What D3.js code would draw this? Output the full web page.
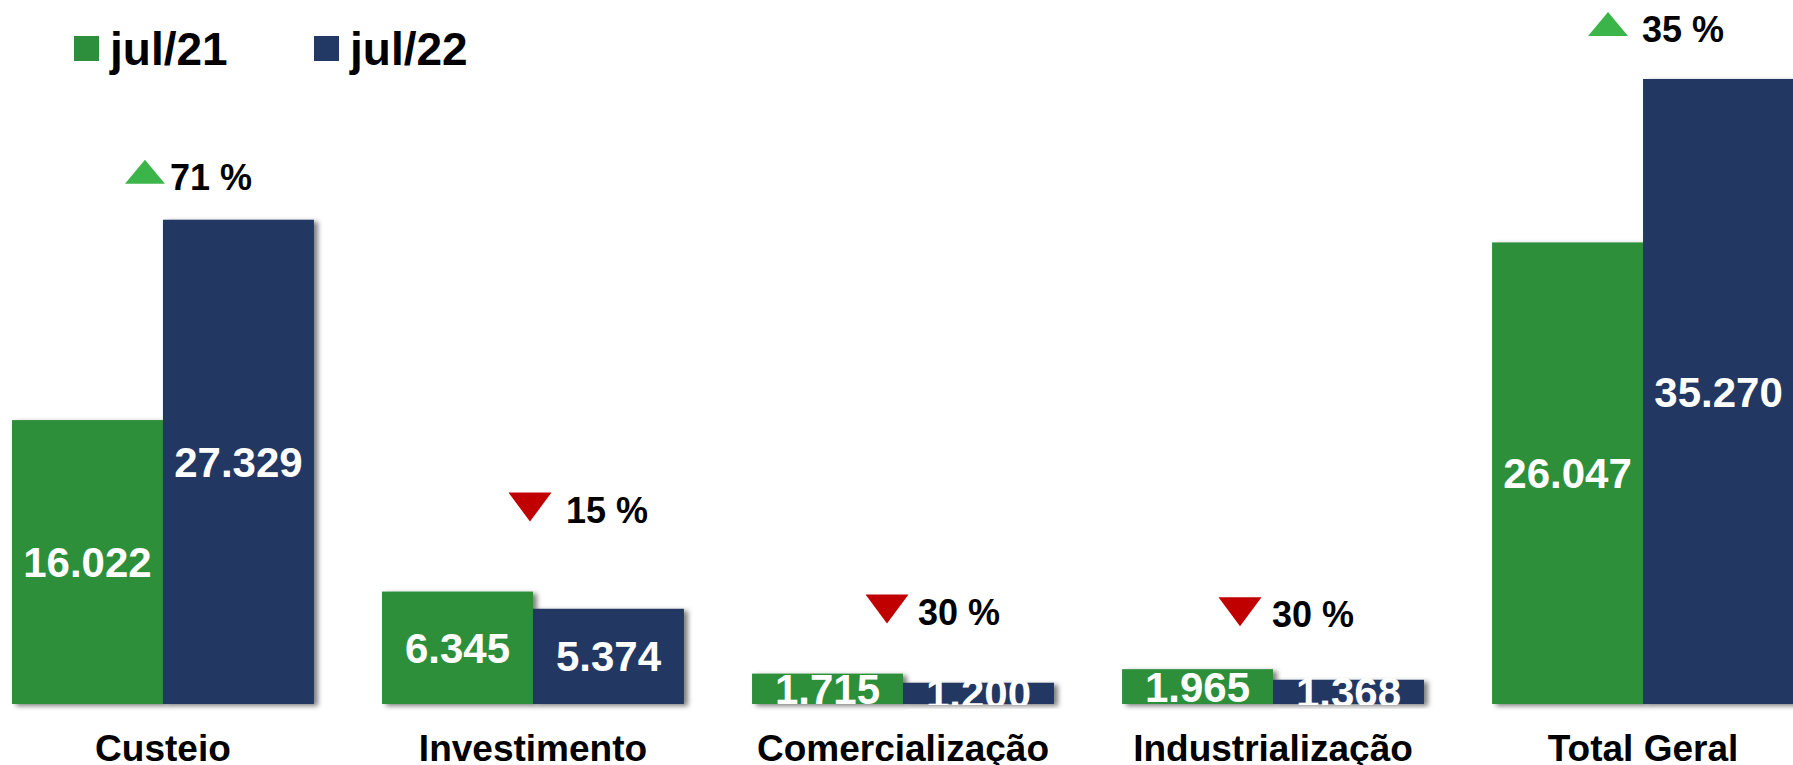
<!DOCTYPE html>
<html>
<head>
<meta charset="utf-8">
<script src="https://cdn.jsdelivr.net/npm/d3@7"></script>
<style>
	body { margin: 0; background: #fff; }
	text { font-family: "Liberation Sans", Arial, sans-serif; font-weight: bold; }
</style>
</head>
<body>
<script>

//Chart data
let categories = ["Custeio", "Investimento", "Comercialização", "Industrialização", "Total Geral"];
let seriesNames = ["jul/21", "jul/22"];
let jul21 = [16022, 6345, 1715, 1965, 26047];
let jul22 = [27329, 5374, 1200, 1368, 35270];

//Hand placement of the change labels (text shift from group centre, lift above taller bar, arrow gap)
let annoShift = [7, 33, 15, -1, -1];
let annoLift = [30, 69, 49, 42, 37];
let arrowGap = [25, 36, 31, 32, 34];

window.onload = drawChart();

function drawChart(){

	let width = 1793;
	let height = 765;

	let colors = ["#2d8f3b", "#213964"];

	let svg = d3.select("body")
		.append("svg")
		.attr("width", width)
		.attr("height", height);

	//Soft shadow on the bars
	let defs = svg.append("defs");
	defs.append("filter")
		.attr("id", "shadow")
		.attr("x", "-10%").attr("y", "-10%")
		.attr("width", "130%").attr("height", "130%")
		.append("feDropShadow")
		.attr("dx", 4).attr("dy", 2)
		.attr("stdDeviation", 2.5)
		.attr("flood-color", "#000")
		.attr("flood-opacity", 0.5);

	defs.append("clipPath")
		.attr("id", "plotClip")
		.append("rect")
		.attr("x", 0).attr("y", 0)
		.attr("width", width).attr("height", 705);

	let x = d3.scaleBand()
		.domain(categories)
		.range([12, 1794])
		.paddingInner(0.184)
		.paddingOuter(0);

	let xSub = d3.scaleBand()
		.domain(seriesNames)
		.range([0, x.bandwidth()]);

	let y = d3.scaleLinear()
		.domain([0, 35270])
		.range([704, 79]);

	let fmt = d3.formatLocale({decimal: ",", thousands: ".", grouping: [3], currency: ["R$", ""]}).format(",d");

	let rows = categories.map(function(c, i){
		return {cat: c, i: i, vals: [jul21[i], jul22[i]]};
	});

	//Bars
	let groups = svg.selectAll(".group")
		.data(rows)
		.enter()
		.append("g")
		.attr("class", "group")
		.attr("transform", function(d){ return "translate(" + x(d.cat) + ",0)"; });

	groups.selectAll("rect")
		.data(function(d){ return d.vals.map(function(v, k){ return {s: seriesNames[k], k: k, v: v}; }); })
		.enter()
		.append("rect")
		.attr("x", function(d){ return xSub(d.s); })
		.attr("y", function(d){ return y(d.v); })
		.attr("width", xSub.bandwidth())
		.attr("height", function(d){ return y(0) - y(d.v); })
		.attr("fill", function(d){ return colors[d.k]; })
		.attr("filter", "url(#shadow)");

	//Value labels inside the bars (clipped at the baseline)
	let labelLayer = svg.append("g").attr("clip-path", "url(#plotClip)");
	rows.forEach(function(r){
		r.vals.forEach(function(v, k){
			labelLayer.append("text")
				.attr("x", x(r.cat) + xSub(seriesNames[k]) + xSub.bandwidth() / 2)
				.attr("y", (y(v) + y(0)) / 2 + 15)
				.attr("text-anchor", "middle")
				.attr("font-size", 42)
				.attr("fill", "#fff")
				.text(fmt(v));
		});
	});

	//Category labels
	svg.selectAll(".cat")
		.data(categories)
		.enter()
		.append("text")
		.attr("class", "cat")
		.attr("x", function(d){ return x(d) + x.bandwidth() / 2; })
		.attr("y", 761)
		.attr("text-anchor", "middle")
		.attr("font-size", 37)
		.attr("fill", "#000")
		.text(function(d){ return d; });

	//Change labels
	rows.forEach(function(r, i){
		let change = Math.round((r.vals[1] / r.vals[0] - 1) * 100);
		let tx = x(r.cat) + x.bandwidth() / 2 + annoShift[i];
		let base = y(d3.max(r.vals)) - annoLift[i];
		let cxTri = tx - arrowGap[i];
		let p = d3.path();
		if (change >= 0){
			p.moveTo(cxTri - 20, base - 6);
			p.lineTo(cxTri + 20, base - 6);
			p.lineTo(cxTri, base - 30);
		} else {
			p.moveTo(cxTri - 21.5, base - 30);
			p.lineTo(cxTri + 21.5, base - 30);
			p.lineTo(cxTri, base - 1);
		}
		p.closePath();
		svg.append("path")
			.attr("d", p.toString())
			.attr("fill", change >= 0 ? "#3bb54a" : "#c00000");
		svg.append("text")
			.attr("x", tx)
			.attr("y", base)
			.attr("font-size", 36)
			.attr("fill", "#000")
			.text(Math.abs(change) + " %");
	});

	//Legend
	let legendX = [74, 314];
	let legend = svg.selectAll(".legend")
		.data(seriesNames)
		.enter()
		.append("g")
		.attr("class", "legend")
		.attr("transform", function(d, i){ return "translate(" + legendX[i] + ",36)"; });

	legend.append("rect")
		.attr("width", 25)
		.attr("height", 25)
		.attr("fill", function(d, i){ return colors[i]; });

	legend.append("text")
		.attr("x", 36)
		.attr("y", 29)
		.attr("font-size", 46)
		.attr("fill", "#000")
		.text(function(d){ return d; });
};

</script>
</body>
</html>
